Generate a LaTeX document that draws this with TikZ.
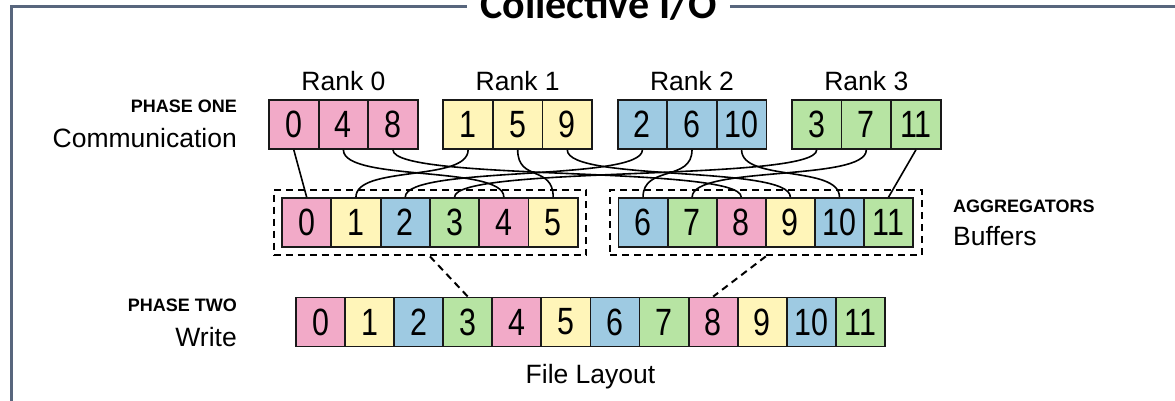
\documentclass[tikz,border=0pt]{standalone}
\usepackage{fontspec}
\setmainfont{Liberation Sans}
\newfontfamily\digitfont[FakeStretch=0.8]{Liberation Sans}
\newfontfamily\headfont{Carlito}
\usetikzlibrary{fit}

% cell colours, one per rank
\definecolor{c0}{RGB}{242,170,200}
\definecolor{c1}{RGB}{255,245,185}
\definecolor{c2}{RGB}{158,202,226}
\definecolor{c3}{RGB}{183,228,163}
\definecolor{framecol}{RGB}{88,102,125}

\tikzset{
  cell/.style={draw=black!90, line width=1.8pt, fill=#1, inner sep=0pt,
    minimum height=49pt, font=\digitfont\fontsize{38}{38}\selectfont},
  frame/.style={draw=framecol, line width=3pt},
  biglabel/.style={inner sep=0pt, font=\fontsize{26.5}{30}\selectfont},
  phase/.style={inner sep=0pt, font=\bfseries\fontsize{18}{20}\selectfont},
  link/.style={draw=black, line width=1.6pt},
  grouping/.style={draw=black, line width=2pt, dash pattern=on 7pt off 5pt},
}

\begin{document}
\begin{tikzpicture}[x=1pt,y=-1pt]
\useasboundingbox (0,0) rectangle (1175,401);

% title and frame
\node[anchor=base, inner xsep=13pt, inner ysep=0pt,
      font=\headfont\bfseries\fontsize{42}{42}\selectfont] (title) at (598.5,19) {Collective I/O};
\coordinate (corner) at (11,7);
\coordinate (frameend) at (11,405);
\coordinate (frameright) at (1180,7);
\draw[frame] (title.west |- corner) -- (corner) -- (frameend);
\draw[frame] (title.east |- corner) -- (frameright);

% phase one: the cells each rank holds
\foreach \k in {0,...,11} {
  \pgfmathtruncatemacro\r{mod(\k,4)}
  \pgfmathtruncatemacro\j{div(\k,4)}
  \node[cell=c\r, minimum width=49.6pt] (t\k) at ({269+174.3*\r+49.6*(\j+0.5)},124.5) {\k};
}
\foreach \r in {0,...,3} {
  \node[biglabel, anchor=base] (rank\r) at ({269+174.3*\r+74.4},91) {Rank \r};
}

% aggregator buffers
\foreach \k in {0,...,5} {
  \pgfmathtruncatemacro\r{mod(\k,4)}
  \node[cell=c\r, minimum width=49.3pt] (b\k) at ({282+49.3*(\k+0.5)},222.5) {\k};
}
\foreach \k in {6,...,11} {
  \pgfmathtruncatemacro\r{mod(\k,4)}
  \node[cell=c\r, minimum width=49.1pt] (b\k) at ({618.5+49.1*(\k-6+0.5)},222.5) {\k};
}
\node[grouping, inner sep=7.5pt, fit=(b0)(b5)] (aggL) {};
\node[grouping, inner sep=7.5pt, fit=(b6)(b11)] (aggR) {};

% phase two: file layout
\foreach \k in {0,...,11} {
  \pgfmathtruncatemacro\r{mod(\k,4)}
  \node[cell=c\r, minimum width=49.1pt] (f\k) at ({296+49.08*(\k+0.5)},322) {\k};
}

% communication links
\draw[link] (t0.south) -- (b0.north);
\draw[link] (t11.south) -- (b11.north);
\foreach \k in {1,...,10} {
  \draw[link] (t\k.south) .. controls +(0,32) and +(0,-32) .. (b\k.north);
}

% write links
\draw[grouping] (aggL.south) -- (f3.north);
\draw[grouping] (aggR.south) -- (f8.north);

% side labels
\node[phase, anchor=base east] (p1) at (237,113) {PHASE ONE};
\node[biglabel, anchor=base east] (comm) at (237,148) {Communication};
\node[phase, anchor=base west] (agg) at (953,212) {AGGREGATORS};
\node[biglabel, anchor=base west] (buf) at (953,245) {Buffers};
\node[phase, anchor=base east] (p2) at (237,311) {PHASE TWO};
\node[biglabel, anchor=base east] (wr) at (237,346) {Write};
\node[biglabel, anchor=base] (fl) at (590.5,383) {File Layout};
\end{tikzpicture}
\end{document}
